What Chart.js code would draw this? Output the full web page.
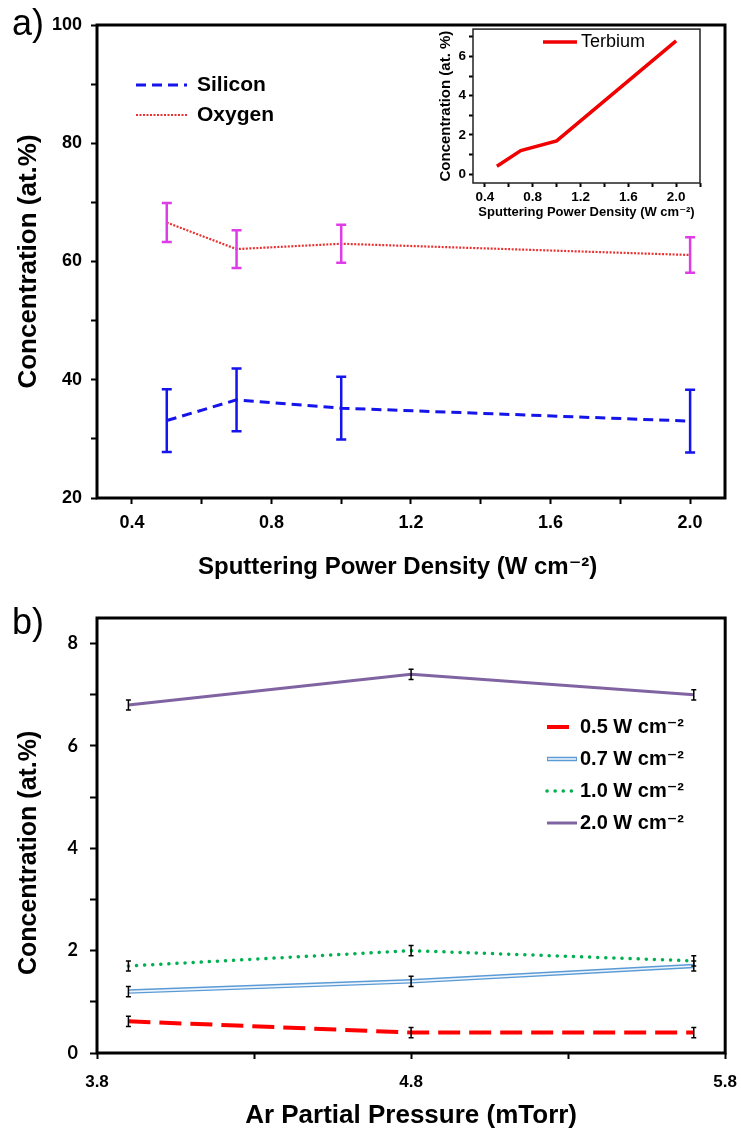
<!DOCTYPE html>
<html>
<head>
<meta charset="utf-8">
<script src="https://cdn.jsdelivr.net/npm/chart.js@4/dist/chart.umd.min.js"></script>
<style>
  body { margin: 0; background: #fff; }
  #page { position: relative; width: 741px; height: 1131px; overflow: hidden; }
  canvas, .tag { position: absolute; }
  .tag { font-family: 'Liberation Sans', Arial, sans-serif; font-size: 36px; line-height: 36px; }
</style>
</head>
<body>
<div id="page">
  <canvas id="powerChart" width="741" height="590" style="left:0;top:0;width:741px;height:590px"></canvas>
  <canvas id="terbiumInset" width="290" height="212" style="left:425px;top:18px;width:290px;height:212px"></canvas>
  <canvas id="pressureChart" width="750" height="541" style="left:0;top:590px;width:750px;height:541px"></canvas>
  <div class="tag" style="left:12px;top:5px">a)</div>
  <div class="tag" style="left:12px;top:604px">b)</div>
</div>
<script>
// panel a - composition vs sputtering power
const powerDensity = [0.5, 0.7, 1.0, 2.0]
const silicon = [33.1, 36.6, 35.2, 33.0]
const siliconErr = [5.3, 5.3, 5.3, 5.3]
const oxygen = [66.6, 62.1, 63.0, 61.1]
const oxygenErr = [3.3, 3.2, 3.2, 3.0]
const powerTicks = [0.4, 0.6, 0.8, 1.0, 1.2, 1.4, 1.6, 1.8, 2.0]
const powerLabels = [0.4, 0.8, 1.2, 1.6, 2.0]

// inset - terbium
const terbium = [0.4, 1.2, 1.7, 6.8]
const insetXTicks = [0.4, 0.6, 0.8, 1.0, 1.2, 1.4, 1.6, 1.8, 2.0, 2.2]
const insetYTicks = [0, 1, 2, 3, 4, 5, 6, 7]

// panel b - terbium vs Ar pressure
const arPressure = [3.9, 4.8, 5.7]
const tb05 = [0.62, 0.4, 0.4]
const tb07 = [1.2, 1.4, 1.7]
const tb10 = [1.7, 2.0, 1.8]
const tb20 = [6.8, 7.4, 7.0]
const tb05Err = [0.1, 0.1, 0.1]
const tb07Err = [0.1, 0.1, 0.1]
const tb10Err = [0.1, 0.1, 0.1]
const tb20Err = [0.1, 0.1, 0.1]
const pressureTicks = [3.8, 4.3, 4.8, 5.3, 5.8]
const pressureLabels = [3.8, 4.8, 5.8]
const concTicksB = [0, 1, 2, 3, 4, 5, 6, 7, 8]

const SANS = "'Liberation Sans', Arial, 'DejaVu Sans', sans-serif"
const NB = '\u00a0'
Chart.defaults.font.family = SANS
Chart.defaults.color = '#000'
Chart.defaults.animation = false

const pts = (xs, ys) => xs.map((x, i) => ({x: x, y: ys[i]}))

const framePlugin = {
  id: 'frame',
  afterDraw(chart, args, opts) {
    const {ctx, chartArea: a} = chart
    ctx.save()
    ctx.strokeStyle = opts.color
    ctx.lineWidth = opts.width
    ctx.strokeRect(a.left, a.top, a.right - a.left, a.bottom - a.top)
    ctx.restore()
  }
}

const errorBarPlugin = {
  id: 'errorBars',
  afterDatasetsDraw(chart, args, opts) {
    const {ctx, scales: {x, y}} = chart
    chart.data.datasets.forEach(ds => {
      if (!ds.errors) return
      ctx.save()
      ctx.strokeStyle = ds.errorColor
      ctx.lineWidth = opts.width
      ds.data.forEach((p, j) => {
        const px = x.getPixelForValue(p.x)
        const top = y.getPixelForValue(p.y + ds.errors[j])
        const bot = y.getPixelForValue(p.y - ds.errors[j])
        ctx.beginPath()
        ctx.moveTo(px, top); ctx.lineTo(px, bot)
        ctx.moveTo(px - opts.cap, top); ctx.lineTo(px + opts.cap, top)
        ctx.moveTo(px - opts.cap, bot); ctx.lineTo(px + opts.cap, bot)
        ctx.stroke()
      })
      ctx.restore()
    })
  }
}

// legend drawn inside the plot box
const boxLegendPlugin = {
  id: 'boxLegend',
  afterDraw(chart, args, opts) {
    const {ctx} = chart
    let y = opts.y
    chart.data.datasets.forEach(ds => {
      if (ds.noLegend) return
      ctx.save()
      ctx.strokeStyle = ds.borderColor
      ctx.lineWidth = ds.borderWidth
      ctx.lineCap = ds.borderCapStyle || 'butt'
      ctx.setLineDash(ds.borderDash || [])
      ctx.beginPath()
      ctx.moveTo(opts.x, y)
      ctx.lineTo(opts.x + opts.sample, y)
      ctx.stroke()
      if (ds.innerColor) {
        ctx.strokeStyle = ds.innerColor
        ctx.lineWidth = ds.innerWidth
        ctx.beginPath()
        ctx.moveTo(opts.x + 1, y)
        ctx.lineTo(opts.x + opts.sample - 1, y)
        ctx.stroke()
      }
      ctx.fillStyle = '#000'
      ctx.font = opts.font
      ctx.textBaseline = 'middle'
      ctx.fillText(ds.label, opts.x + opts.sample + opts.gap, y)
      ctx.restore()
      y += opts.row
    })
  }
}

const fixedTicks = list => axis => { axis.ticks = list.map(v => ({value: v})) }
const labelIf = (list, digits) => v => list.some(l => Math.abs(l - v) < 1e-6) ? v.toFixed(digits) : ''
const outerGrid = len => ({drawOnChartArea: false, tickLength: len, tickColor: '#000', tickWidth: 2})

// panel a
new Chart(document.getElementById('powerChart').getContext('2d'), {
  type: 'line',
  data: {
    datasets: [{
      label: 'Silicon',
      data: pts(powerDensity, silicon),
      borderColor: 'rgb(20, 20, 235)',
      borderWidth: 3,
      borderDash: [10, 6],
      errors: siliconErr,
      errorColor: 'rgb(20, 20, 235)'
    }, {
      label: 'Oxygen',
      data: pts(powerDensity, oxygen),
      borderColor: 'rgb(232, 50, 50)',
      borderWidth: 2.2,
      borderDash: [2, 1.5],
      errors: oxygenErr,
      errorColor: 'rgb(222, 60, 230)'
    }]
  },
  options: {
    responsive: false,
    elements: {point: {radius: 0}, line: {tension: 0}},
    layout: {padding: {top: 25, right: 16, left: 0, bottom: 0}},
    scales: {
      x: {
        type: 'linear', min: 0.3, max: 2.1,
        afterBuildTicks: fixedTicks(powerTicks),
        afterFit: s => { s.height = 92 },
        grid: outerGrid(6),
        border: {display: false},
        ticks: {padding: 8, font: {size: 18, weight: 'bold'}, callback: labelIf(powerLabels, 1)},
        title: {display: true, text: 'Sputtering Power Density (W cm⁻²)' + NB.repeat(4), font: {size: 24, weight: 'bold'}, padding: {top: 0, bottom: 8}}
      },
      y: {
        min: 20, max: 100,
        ticks: {stepSize: 10, padding: 9, font: {size: 18, weight: 'bold'}, callback: v => v % 20 === 0 ? v : ''},
        afterFit: s => { s.width = 97 },
        grid: outerGrid(6),
        border: {display: false},
        title: {display: true, text: 'Concentration (at.%)', font: {size: 26, weight: 'bold'}, padding: {top: 13, bottom: 0}}
      }
    },
    plugins: {
      legend: {display: false},
      tooltip: {enabled: false},
      frame: {color: '#000', width: 3},
      errorBars: {width: 2.5, cap: 5},
      boxLegend: {x: 136, y: 85, row: 30, sample: 51, gap: 10, font: 'bold 21px ' + SANS}
    }
  },
  plugins: [framePlugin, errorBarPlugin, boxLegendPlugin]
})

// inset
new Chart(document.getElementById('terbiumInset').getContext('2d'), {
  type: 'line',
  data: {
    datasets: [{
      label: 'Terbium',
      data: pts(powerDensity, terbium),
      borderColor: 'rgb(240, 0, 0)',
      borderWidth: 3.5
    }]
  },
  options: {
    responsive: false,
    elements: {point: {radius: 0}, line: {tension: 0}},
    layout: {padding: {top: 8, right: 15, left: 0, bottom: 0}},
    scales: {
      x: {
        type: 'linear', min: 0.3, max: 2.2,
        afterBuildTicks: fixedTicks(insetXTicks),
        afterFit: s => { s.height = 47 },
        grid: outerGrid(4),
        border: {display: false},
        ticks: {padding: 2, font: {size: 13.5, weight: 'bold'}, callback: labelIf(powerLabels, 1)},
        title: {display: true, text: 'Sputtering Power Density (W cm⁻²)', font: {size: 13, weight: 'bold'}, padding: {top: 0, bottom: 10}}
      },
      y: {
        min: -0.45, max: 7.4,
        afterBuildTicks: fixedTicks(insetYTicks),
        afterFit: s => { s.width = 48 },
        grid: outerGrid(4),
        border: {display: false},
        ticks: {padding: 3, font: {size: 13.5, weight: 'bold'}, callback: v => v % 2 === 0 ? v : ''},
        title: {display: true, text: 'Concentration (at. %)', font: {size: 15, weight: 'bold'}, padding: {top: 12, bottom: 0}}
      }
    },
    plugins: {
      legend: {display: false},
      tooltip: {enabled: false},
      frame: {color: '#222', width: 1.5},
      boxLegend: {x: 118, y: 24, row: 24, sample: 34, gap: 4, font: '18px ' + SANS}
    }
  },
  plugins: [framePlugin, boxLegendPlugin]
})

// panel b (canvas a bit wider than the page so the last tick label fits past the frame)
new Chart(document.getElementById('pressureChart').getContext('2d'), {
  type: 'line',
  data: {
    datasets: [{
      label: '0.5 W cm⁻²',
      data: pts(arPressure, tb05),
      borderColor: 'rgb(255, 0, 0)',
      borderWidth: 4,
      borderDash: [22, 9],
      errors: tb05Err,
      errorColor: '#000',
      order: 1
    }, {
      label: '0.7 W cm⁻²',
      data: pts(arPressure, tb07),
      borderColor: 'rgb(91, 155, 213)',
      borderWidth: 4.5,
      innerColor: '#eef4fb',
      innerWidth: 1.6,
      errors: tb07Err,
      errorColor: '#000',
      order: 1
    }, {
      label: '0.7 inner',
      data: pts(arPressure, tb07),
      borderColor: '#eef4fb',
      borderWidth: 1.6,
      noLegend: true,
      order: 0
    }, {
      label: '1.0 W cm⁻²',
      data: pts(arPressure, tb10),
      borderColor: 'rgb(0, 176, 80)',
      borderWidth: 3.5,
      borderDash: [0.1, 8],
      borderCapStyle: 'round',
      errors: tb10Err,
      errorColor: '#000',
      order: 1
    }, {
      label: '2.0 W cm⁻²',
      data: pts(arPressure, tb20),
      borderColor: 'rgb(128, 100, 162)',
      borderWidth: 3,
      errors: tb20Err,
      errorColor: '#000',
      order: 1
    }]
  },
  options: {
    responsive: false,
    elements: {point: {radius: 0}, line: {tension: 0}},
    layout: {padding: {top: 28, right: 7, left: 0, bottom: 0}},
    scales: {
      x: {
        type: 'linear', min: 3.8, max: 5.8,
        afterBuildTicks: fixedTicks(pressureTicks),
        afterFit: s => { s.height = 78 },
        grid: outerGrid(6),
        border: {display: false},
        ticks: {padding: 13, font: {size: 17, weight: 'bold'}, callback: labelIf(pressureLabels, 1)},
        title: {display: true, text: 'Ar Partial Pressure (mTorr)', font: {size: 26, weight: 'bold'}, padding: {top: 0, bottom: 0}}
      },
      y: {
        min: 0, max: 8.5,
        afterBuildTicks: fixedTicks(concTicksB),
        afterFit: s => { s.width = 97 },
        grid: outerGrid(7),
        border: {display: false},
        ticks: {padding: 12, font: {family: "Lato, 'Open Sans', sans-serif", size: 18, weight: 'bold'}, callback: v => v % 2 === 0 ? v : ''},
        title: {display: true, text: 'Concentration (at.%)' + NB.repeat(5), font: {size: 25, weight: 'bold'}, padding: {top: 14, bottom: 0}}
      }
    },
    plugins: {
      legend: {display: false},
      tooltip: {enabled: false},
      frame: {color: '#000', width: 3},
      errorBars: {width: 1.5, cap: 2.5},
      boxLegend: {x: 547, y: 137, row: 32, sample: 30, gap: 3, font: 'bold 20px ' + SANS}
    }
  },
  plugins: [framePlugin, errorBarPlugin, boxLegendPlugin]
})
</script>
</body>
</html>
